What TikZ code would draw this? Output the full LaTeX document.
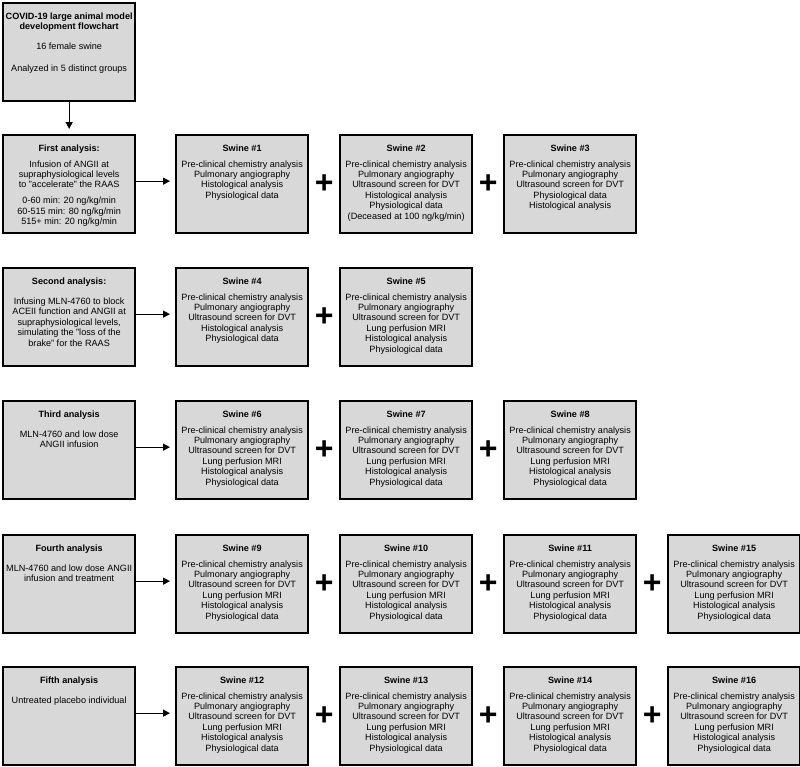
\documentclass[tikz,border=0pt]{standalone}
\usepackage{fontspec}
\setmainfont{Liberation Sans}
\usepackage{tikz}
\usetikzlibrary{calc,arrows.meta}
\definecolor{boxfill}{RGB}{216,216,216}
\newcommand{\boxtext}[1]{\parbox[t][98pt][t]{132pt}{\centering\rule{0pt}{16pt}#1}}
\newcommand{\allchecks}{Pre-clinical chemistry analysis\\ Pulmonary angiography\\ Ultrasound screen for DVT\\ Lung perfusion MRI\\ Histological analysis\\ Physiological data}

\begin{document}
\begin{tikzpicture}[x=1pt, y=-1pt, >={Triangle[length=7pt,width=7pt]},
  box/.style={draw=black, fill=boxfill, line width=2.3pt, inner sep=0pt, minimum width=132pt, minimum height=98pt, anchor=north west, font=\fontsize{9.1}{10.4}\selectfont},
  plus/.style={inner sep=0pt, font=\fontsize{32}{32}\selectfont\bfseries},
  link/.style={->, line width=1.3pt, shorten >=5pt}]
  \useasboundingbox (0,0) rectangle (800,766);

  % Overview
  \node[box] (start) at (2,2) {\boxtext{\textbf{COVID-19 large animal model}\\ \textbf{development flowchart}\\[9.9pt] 16 female swine\\[11pt] Analyzed in 5 distinct groups}};

  % First analysis
  \node[box] (first) at (2,134) {\boxtext{\textbf{First analysis:}\\[5.6pt] Infusion of ANGII at\\ supraphysiological levels\\ to "accelerate" the RAAS\\[5.6pt] 0-60 min: 20 ng/kg/min\\ 60-515 min: 80 ng/kg/min\\ 515+ min: 20 ng/kg/min}};
  \node[box] (s1) at (175,134) {\boxtext{\textbf{Swine \#1}\\[5.6pt] Pre-clinical chemistry analysis\\ Pulmonary angiography\\ Histological analysis\\ Physiological data}};
  \node[box] (s2) at (339,134) {\boxtext{\textbf{Swine \#2}\\[5.6pt] Pre-clinical chemistry analysis\\ Pulmonary angiography\\ Ultrasound screen for DVT\\ Histological analysis\\ Physiological data\\ (Deceased at 100 ng/kg/min)}};
  \node[box] (s3) at (503,134) {\boxtext{\textbf{Swine \#3}\\[5.6pt] Pre-clinical chemistry analysis\\ Pulmonary angiography\\ Ultrasound screen for DVT\\ Physiological data\\ Histological analysis}};

  % Second analysis
  \node[box] (second) at (2,267) {\boxtext{\textbf{Second analysis:}\\[9.9pt] Infusing MLN-4760 to block\\ ACEII function and ANGII at\\ supraphysiological levels,\\ simulating the "loss of the\\ brake" for the RAAS}};
  \node[box] (s4) at (175,267) {\boxtext{\textbf{Swine \#4}\\[5.6pt] Pre-clinical chemistry analysis\\ Pulmonary angiography\\ Ultrasound screen for DVT\\ Histological analysis\\ Physiological data}};
  \node[box] (s5) at (339,267) {\boxtext{\textbf{Swine \#5}\\[5.6pt] \allchecks}};

  % Third analysis
  \node[box] (third) at (2,400) {\boxtext{\textbf{Third analysis}\\[9.9pt] MLN-4760 and low dose\\ ANGII infusion}};
  \node[box] (s6) at (175,400) {\boxtext{\textbf{Swine \#6}\\[5.6pt] \allchecks}};
  \node[box] (s7) at (339,400) {\boxtext{\textbf{Swine \#7}\\[5.6pt] \allchecks}};
  \node[box] (s8) at (503,400) {\boxtext{\textbf{Swine \#8}\\[5.6pt] \allchecks}};

  % Fourth analysis
  \node[box] (fourth) at (2,534) {\boxtext{\textbf{Fourth analysis}\\[9.9pt] MLN-4760 and low dose ANGII\\ infusion and treatment}};
  \node[box] (s9) at (175,534) {\boxtext{\textbf{Swine \#9}\\[5.6pt] \allchecks}};
  \node[box] (s10) at (339,534) {\boxtext{\textbf{Swine \#10}\\[5.6pt] \allchecks}};
  \node[box] (s11) at (503,534) {\boxtext{\textbf{Swine \#11}\\[5.6pt] \allchecks}};
  \node[box] (s15) at (667,534) {\boxtext{\textbf{Swine \#15}\\[5.6pt] \allchecks}};

  % Fifth analysis
  \node[box] (fifth) at (2,666) {\boxtext{\textbf{Fifth analysis}\\[9.9pt] Untreated placebo individual}};
  \node[box] (s12) at (175,666) {\boxtext{\textbf{Swine \#12}\\[5.6pt] \allchecks}};
  \node[box] (s13) at (339,666) {\boxtext{\textbf{Swine \#13}\\[5.6pt] \allchecks}};
  \node[box] (s14) at (503,666) {\boxtext{\textbf{Swine \#14}\\[5.6pt] \allchecks}};
  \node[box] (s16) at (667,666) {\boxtext{\textbf{Swine \#16}\\[5.6pt] \allchecks}};

  % Plus signs
  \node[plus] (p12) at ($(s1.east)!0.5!(s2.west)$) {+};
  \node[plus] (p23) at ($(s2.east)!0.5!(s3.west)$) {+};
  \node[plus] (p45) at ($(s4.east)!0.5!(s5.west)$) {+};
  \node[plus] (p67) at ($(s6.east)!0.5!(s7.west)$) {+};
  \node[plus] (p78) at ($(s7.east)!0.5!(s8.west)$) {+};
  \node[plus] (p910) at ($(s9.east)!0.5!(s10.west)$) {+};
  \node[plus] (p1011) at ($(s10.east)!0.5!(s11.west)$) {+};
  \node[plus] (p1115) at ($(s11.east)!0.5!(s15.west)$) {+};
  \node[plus] (p1213) at ($(s12.east)!0.5!(s13.west)$) {+};
  \node[plus] (p1314) at ($(s13.east)!0.5!(s14.west)$) {+};
  \node[plus] (p1416) at ($(s14.east)!0.5!(s16.west)$) {+};

  % Arrows
  \draw[link] (start.south) -- (first.north);
  \draw[link] ([yshift=3pt]first.east) -- ([yshift=3pt]s1.west);
  \draw[link] ([yshift=3pt]second.east) -- ([yshift=3pt]s4.west);
  \draw[link] ([yshift=3pt]third.east) -- ([yshift=3pt]s6.west);
  \draw[link] ([yshift=3pt]fourth.east) -- ([yshift=3pt]s9.west);
  \draw[link] ([yshift=3pt]fifth.east) -- ([yshift=3pt]s12.west);
\end{tikzpicture}
\end{document}
